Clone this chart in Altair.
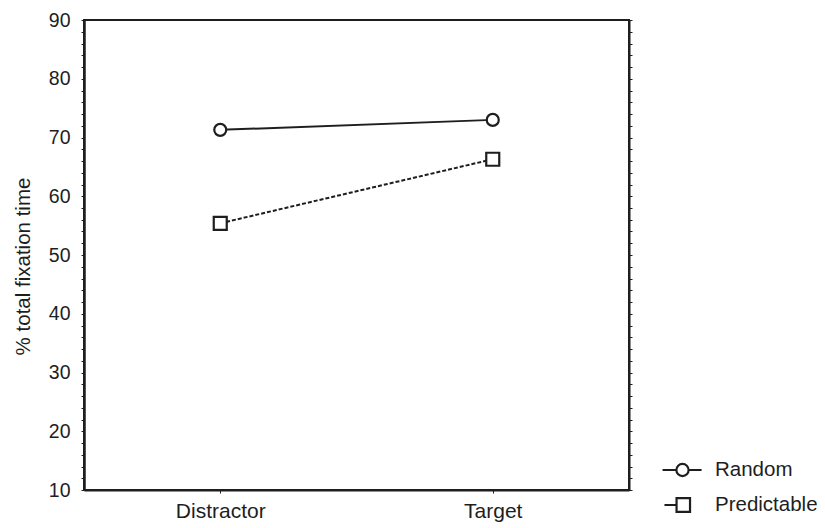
import altair as alt
import pandas as pd

conditions = ["Distractor", "Target"]
random_vals = [71.3, 73.0]
predictable_vals = [55.4, 66.3]
series_names = ["Random", "Predictable"]
y_minor = list(range(10, 91, 2))

rows = []
for c, v in zip(conditions, random_vals):
    rows.append({"Condition": c, "Value": v, "Series": "Random"})
for c, v in zip(conditions, predictable_vals):
    rows.append({"Condition": c, "Value": v, "Series": "Predictable"})
df = pd.DataFrame(rows)

FONT = "Liberation Sans"
INK = "#1e1e1e"

x_scale = alt.Scale(type="point", padding=0.5)
x_axis = alt.Axis(labelAngle=0, labelPadding=7, tickSize=3,
                  labelFontSize=21, labelFont=FONT, labelColor=INK,
                  domainColor=INK, domainWidth=2, tickColor=INK)
x_enc = alt.X("Condition:N", sort=conditions, title=None, scale=x_scale, axis=x_axis)
y_scale = alt.Scale(domain=[10, 90], nice=False, zero=False)
label_expr = "datum.value % 10 == 0 ? datum.label : ''"
y_axis = alt.Axis(values=y_minor, labelExpr=label_expr, labelOverlap=False,
                  tickSize=3, labelPadding=11, grid=False,
                  labelFontSize=19.5, labelFont=FONT, labelColor=INK,
                  titleFontSize=20.5, titleFont=FONT, titleColor=INK,
                  titleFontWeight="normal", titlePadding=15, titleY=246,
                  domainColor=INK, domainWidth=2.5, tickColor=INK)
y_enc = alt.Y("Value:Q", scale=y_scale, title="% total fixation time", axis=y_axis)

base = alt.Chart(df)

circle_path = ("M-1.14,0L-0.35,0M0.35,0L1.09,0"
               "M-0.35,0A0.35,0.35,0,1,0,0.35,0A0.35,0.35,0,1,0,-0.35,0Z")
square_path = ("M-1.03,0L-0.34,0M-0.34,-0.39L0.43,-0.39L0.43,0.39L-0.34,0.39Z")

# legend carrier: tiny points hidden beneath the white-filled markers
legend_layer = base.mark_point(filled=False, color=INK, size=1, opacity=1).encode(
    x=x_enc, y=y_enc,
    shape=alt.Shape("Series:N",
                    scale=alt.Scale(domain=series_names, range=[circle_path, square_path]),
                    legend=alt.Legend(title=None, orient="none", legendX=579.5, legendY=431,
                                      padding=0, symbolSize=1225, symbolStrokeWidth=2.2,
                                      symbolStrokeColor=INK, symbolFillColor="transparent",
                                      symbolOpacity=1,
                                      labelOffset=13.5, rowPadding=5,
                                      labelFontSize=20.5, labelFont=FONT, labelColor=INK)),
)

line_random = base.transform_filter(alt.datum.Series == "Random").mark_line(
    color=INK, strokeWidth=2).encode(x=x_enc, y=y_enc)
line_pred = base.transform_filter(alt.datum.Series == "Predictable").mark_line(
    color=INK, strokeWidth=2, strokeDash=[4, 2]).encode(x=x_enc, y=y_enc)

circles = base.transform_filter(alt.datum.Series == "Random").mark_point(
    shape="circle", filled=True, fill="white", stroke=INK, strokeWidth=2.2, size=144, opacity=1
).encode(x=x_enc, y=y_enc)

squares = base.transform_filter(alt.datum.Series == "Predictable").mark_point(
    shape="square", filled=True, fill="white", stroke=INK, strokeWidth=2.2, size=169, opacity=1
).encode(x=x_enc, y=y_enc)

right_axis = base.mark_line(opacity=0).encode(
    x=x_enc,
    y=alt.Y("Value:Q", scale=y_scale,
            axis=alt.Axis(orient="right", values=y_minor, labels=False, title=None,
                          tickSize=3, grid=False, domainColor=INK, domainWidth=2,
                          tickColor=INK)),
    detail="Series:N",
)

main = alt.layer(legend_layer, line_random, line_pred, circles, squares)

chart = alt.layer(main, right_axis).resolve_scale(y="independent").properties(
    width=545, height=470,
    autosize=alt.AutoSizeParams(type="none"),
    padding={"left": 76, "top": 12, "right": 188, "bottom": 38},
    background="white",
).configure_view(stroke=INK, strokeWidth=2)

chart.save("out.html", embed_options={"renderer": "svg", "actions": False})
